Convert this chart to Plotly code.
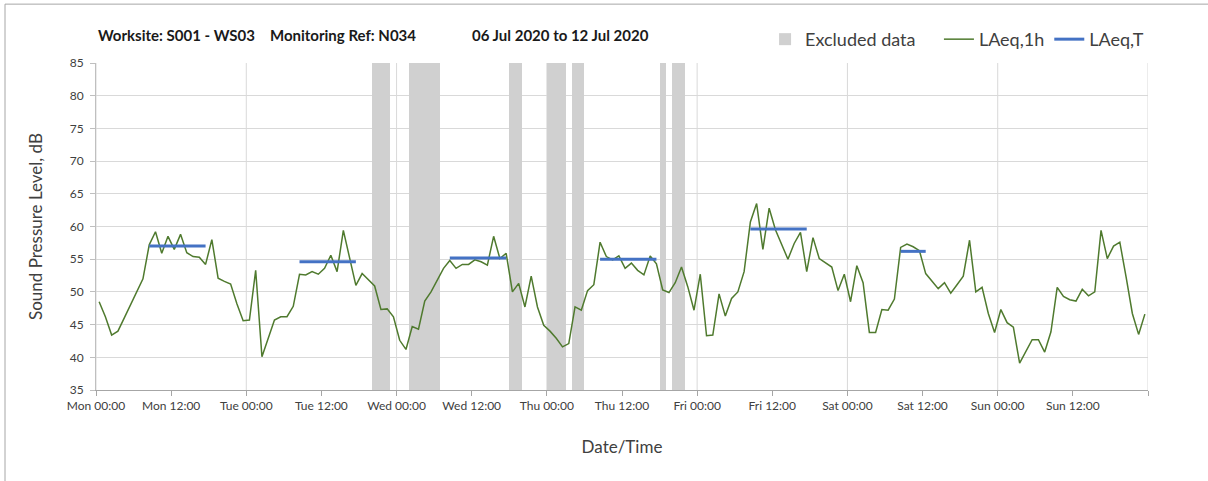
import plotly.graph_objects as go

# Hourly LAeq,1h levels (dB), Mon 00:00 .. Sun 23:00, plotted at mid-hour
laeq_1h = [
    48.5, 46.2, 43.4, 44.0, 46.0, 48.0, 49.8, 52.0, 57.2, 59.2,
    55.9, 58.5, 56.5, 58.8, 56.0, 55.4, 55.3, 54.2, 58.0, 52.1,
    51.6, 51.2, 48.2, 45.6, 45.7, 53.3, 40.1, 42.9, 45.7, 46.2,
    46.2, 47.8, 52.7, 52.6, 53.1, 52.7, 53.6, 55.6, 53.1, 59.4,
    55.2, 51.0, 52.8, 51.9, 50.9, 47.3, 47.4, 46.2, 42.6, 41.2,
    44.7, 44.3, 48.6, 50.0, 51.7, 53.6, 54.8, 53.6, 54.2, 54.2,
    54.9, 54.6, 54.1, 58.5, 55.1, 55.9, 50.0, 51.3, 47.7, 52.4,
    47.7, 44.9, 44.0, 42.9, 41.6, 42.1, 47.7, 47.2, 50.2, 51.1,
    57.6, 55.4, 54.9, 55.5, 53.6, 54.4, 53.3, 52.6, 55.5, 54.3,
    50.3, 49.9, 51.4, 53.8, 50.8, 47.2, 52.7, 43.3, 43.4, 49.7,
    46.3, 49.0, 50.0, 53.1, 60.7, 63.5, 56.5, 62.8, 59.5, 57.2,
    55.0, 57.4, 59.1, 53.1, 58.3, 55.1, 54.4, 53.8, 50.2, 52.7,
    48.5, 54.0, 51.4, 43.8, 43.8, 47.3, 47.2, 48.9, 56.8, 57.3,
    56.9, 56.3, 52.8, 51.7, 50.5, 51.4, 49.8, 51.1, 52.4, 57.9,
    50.0, 50.7, 46.7, 43.8, 47.3, 45.3, 44.6, 39.1, 40.8, 42.7,
    42.7, 40.8, 43.9, 50.7, 49.3, 48.8, 48.6, 50.4, 49.4, 50.0,
    59.4, 55.1, 57.0, 57.6, 52.3, 46.7, 43.5, 46.6,
]
hour_index = list(range(len(laeq_1h)))

# Daytime LAeq,T periods: first hour, last hour, level (dB)
period_start = [8, 32, 56, 80, 104, 128]
period_end = [17, 41, 65, 89, 113, 132]
period_level = [57.0, 54.6, 55.2, 55.0, 59.6, 56.2]

# Excluded-data windows (hours from Mon 00:00)
excl_start = [44, 50, 66, 72, 76, 90, 92]
excl_end = [47, 55, 68, 75, 78, 91, 94]

# Axis labels
tick_hours = list(range(0, 169, 12))
tick_labels = [
    "Mon 00:00", "Mon 12:00", "Tue 00:00", "Tue 12:00", "Wed 00:00",
    "Wed 12:00", "Thu 00:00", "Thu 12:00", "Fri 00:00", "Fri 12:00",
    "Sat 00:00", "Sat 12:00", "Sun 00:00", "Sun 12:00", "",
]
day_hours = list(range(0, 169, 24))

# Title pieces and their left positions (fraction of plot width)
title_parts = ["Worksite: S001 - WS03", "Monitoring Ref: N034", "06 Jul 2020 to 12 Jul 2020"]
title_pos = [0.0, 0.1635, 0.3555]

Y_MIN, Y_MAX = 35, 85
FONT = "Lato"
TXT = "#404040"
GRID = "#d9d9d9"
NBSP = "\u00a0"

fig = go.Figure()

# Excluded windows as full-height bars
fig.add_trace(go.Bar(
    x=[(s + e) / 2 for s, e in zip(excl_start, excl_end)],
    width=[e - s for s, e in zip(excl_start, excl_end)],
    y=[Y_MAX - Y_MIN] * len(excl_start),
    base=[Y_MIN] * len(excl_start),
    marker=dict(color="#d0d0d0", line=dict(width=0)),
    name="Excluded data" + NBSP * 4,
    hoverinfo="skip",
))

fig.add_trace(go.Scatter(
    x=[h + 0.5 for h in hour_index],
    y=laeq_1h,
    mode="lines",
    line=dict(color="#4f7a2e", width=1.5),
    name="LAeq,1h",
))

for i, (s, e, v) in enumerate(zip(period_start, period_end, period_level)):
    fig.add_trace(go.Scatter(
        x=[s + 0.5, e + 0.5],
        y=[v, v],
        mode="lines",
        line=dict(color="#4472c4", width=3),
        name="LAeq,T",
        legendgroup="laeqT",
        showlegend=(i == 0),
    ))

# Vertical day gridlines
for d in day_hours:
    fig.add_shape(type="line", xref="x", yref="paper", x0=d, x1=d, y0=0, y1=1,
                  line=dict(color=GRID, width=1), layer="below")

# Outer chart frame
fig.add_shape(type="rect", xref="paper", yref="paper",
              x0=-0.0865, x1=1.2, y0=-0.4, y1=1.18,
              line=dict(color="#a6a6a6", width=1), fillcolor="rgba(0,0,0,0)")

annotations = [
    dict(text=t, xref="paper", yref="paper", x=p, y=1.085, xanchor="left", yanchor="middle",
         showarrow=False, font=dict(family=FONT, size=15, color="#1a1a1a", weight="bold"))
    for t, p in zip(title_parts, title_pos)
]

fig.update_layout(
    width=1208, height=481,
    margin=dict(l=96, r=60, t=63, b=91),
    paper_bgcolor="white", plot_bgcolor="white",
    font=dict(family=FONT, color=TXT, size=12),
    bargap=0,
    showlegend=True,
    legend=dict(
        orientation="h", x=0.636, xanchor="left", y=1.072, yanchor="middle",
        font=dict(family=FONT, size=18, color=TXT),
        bgcolor="rgba(0,0,0,0)", itemwidth=30, tracegroupgap=0,
    ),
    annotations=annotations,
    xaxis=dict(
        range=[0, 168], tickmode="array", tickvals=tick_hours, ticktext=tick_labels,
        showgrid=False, zeroline=False, showline=True, linecolor="#a6a6a6",
        ticks="outside", ticklen=5, tickcolor="#a6a6a6",
        tickfont=dict(family=FONT, size=12, color=TXT),
        title=dict(text="Date/Time", font=dict(family=FONT, size=17, color=TXT), standoff=28),
    ),
    yaxis=dict(
        range=[Y_MIN, Y_MAX], dtick=5, showgrid=True, gridcolor=GRID, zeroline=False,
        showline=True, linecolor="#bfbfbf", ticks="outside", ticklen=5, tickcolor="#bfbfbf",
        ticklabelstandoff=4,
        tickfont=dict(family=FONT, size=12, color=TXT),
        title=dict(text="Sound Pressure Level, dB", font=dict(family=FONT, size=17, color=TXT),
                   standoff=22),
    ),
)

fig.write_html("out.html")
